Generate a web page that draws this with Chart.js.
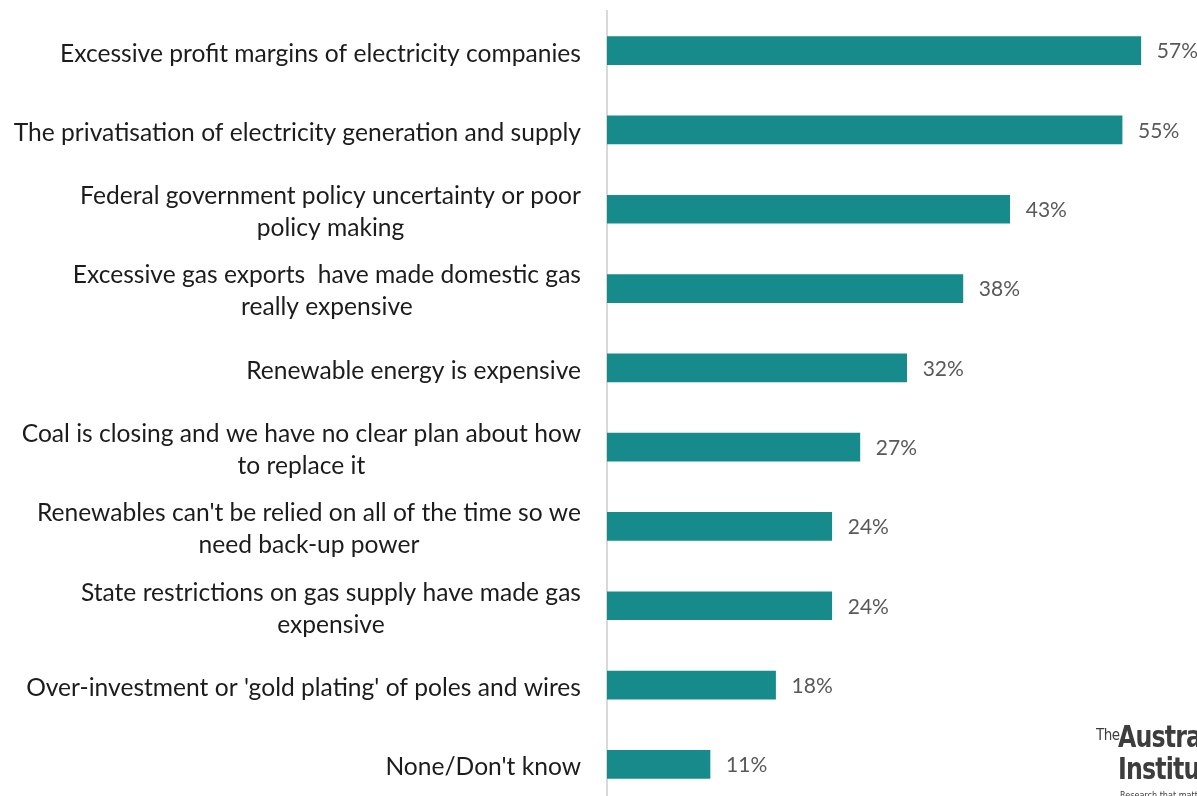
<!DOCTYPE html>
<html>
<head>
<meta charset="utf-8">
<script src="https://cdn.jsdelivr.net/npm/chart.js@4.4.0/dist/chart.umd.min.js"></script>
<style>
  html, body { margin: 0; padding: 0; background: #fff; overflow: hidden; }
  #wrap { position: relative; width: 1197px; height: 804px; }
  #logo { position: absolute; left: 1096px; top: 718px; color: #3d3d3d; white-space: nowrap;
          font-family: "Liberation Sans Narrow", "DejaVu Sans Condensed", sans-serif; }
  #logo .the { font-size: 15px; position: absolute; left: 0; top: 8px; letter-spacing: -0.5px; }
  #logo .big { font-size: 31px; font-weight: bold; position: absolute; left: 22px; letter-spacing: -1px;
               transform: scaleX(0.85); transform-origin: left top; }
  #logo .tag { font-size: 9px; position: absolute; left: 24px; top: 72px; }
</style>
</head>
<body>
<div id="wrap">
  <canvas id="barChart" width="1197" height="804"></canvas>
  <div id="logo">
    <span class="the">The</span>
    <span class="big" style="top:0px">Australia</span>
    <span class="big" style="top:32px">Institute</span>
    <span class="tag">Research that matters.</span>
  </div>
</div>
<script>
var categories = [
  ["Excessive profit margins of electricity companies"],
  ["The privatisation of electricity generation and supply"],
  ["Federal government policy uncertainty or poor", "policy making"],
  ["Excessive gas exports  have made domestic gas", "really expensive"],
  ["Renewable energy is expensive"],
  ["Coal is closing and we have no clear plan about how", "to replace it"],
  ["Renewables can't be relied on all of the time so we", "need back-up power"],
  ["State restrictions on gas supply have made gas", "expensive"],
  ["Over-investment or 'gold plating' of poles and wires"],
  ["None/Don't know"]
]
var values = [57, 55, 43, 38, 32, 27, 24, 24, 18, 11]

var labelFont = '24.6px Lato, "Open Sans", sans-serif'
var valueFont = '21px Lato, "Open Sans", sans-serif'

// draws the wrapped category labels and the % labels next to the bars
var labelPlugin = {
  id: 'labelPlugin',
  afterDraw: function (chart) {
    var ctx = chart.ctx
    var yScale = chart.scales.y
    var meta = chart.getDatasetMeta(0)
    ctx.save()
    ctx.textBaseline = 'middle'

    ctx.font = labelFont
    ctx.fillStyle = '#1c1c1c'
    ctx.textAlign = 'center'
    for (let i = 0; i < categories.length; i++) {
      let lines = categories[i]
      let widest = 0
      for (let line of lines) {
        widest = Math.max(widest, ctx.measureText(line).width)
      }
      let cx = 581 - widest / 2
      let cy = yScale.getPixelForValue(i) + 3
      let lineH = 32
      let top = cy - (lines.length - 1) * lineH / 2
      for (let j = 0; j < lines.length; j++) {
        ctx.fillText(lines[j], cx, top + j * lineH)
      }
    }

    ctx.font = valueFont
    ctx.fillStyle = '#595959'
    ctx.textAlign = 'left'
    for (let i = 0; i < values.length; i++) {
      let bar = meta.data[i]
      ctx.fillText(values[i] + '%', bar.x + 16, bar.y + 1)
    }
    ctx.restore()
  }
}

var ctx = document.getElementById('barChart').getContext('2d')
var barChart = new Chart(ctx, {
  type: 'bar',
  data: {
    labels: categories.map(c => c.join(' ')),
    datasets: [{
      data: values,
      backgroundColor: '#178b8b',
      borderWidth: 0,
      barThickness: 28
    }]
  },
  options: {
    indexAxis: 'y',
    responsive: false,
    animation: false,
    layout: {
      padding: { left: 599, right: 0, top: 11, bottom: 0 }
    },
    plugins: {
      legend: { display: false },
      tooltip: { enabled: false }
    },
    scales: {
      x: {
        display: false,
        min: 0,
        max: 63
      },
      y: {
        ticks: { display: false },
        grid: { display: false },
        border: { display: true, color: '#d9d9d9', width: 2 }
      }
    }
  },
  plugins: [labelPlugin]
})
</script>
</body>
</html>
